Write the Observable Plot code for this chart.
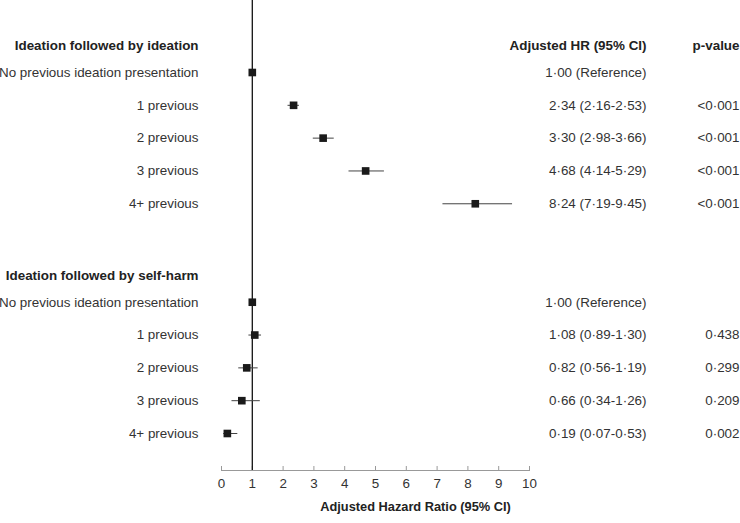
<!DOCTYPE html>
<html>
<head>
<meta charset="utf-8">
<script src="https://cdn.jsdelivr.net/npm/d3@7"></script>
<script src="https://cdn.jsdelivr.net/npm/@observablehq/plot@0.6"></script>
<style>
  html, body { margin: 0; padding: 0; background: #fff; }
  #chart { width: 740px; height: 523px; overflow: hidden; }
</style>
</head>
<body>
<div id="chart"></div>
<script>
// ---- data ----
const groupTitles = ["Ideation followed by ideation", "Ideation followed by self-harm"];
const groupRows = [0, 7];
const rowLabels = ["No previous ideation presentation", "1 previous", "2 previous", "3 previous", "4+ previous"];
const rows1 = [1, 2, 3, 4, 5];
const rows2 = [8, 9, 10, 11, 12];

const hr1 = [1.00, 2.34, 3.30, 4.68, 8.24];
const lo1 = [null, 2.16, 2.98, 4.14, 7.19];
const hi1 = [null, 2.53, 3.66, 5.29, 9.45];
const p1 = ["", "<0·001", "<0·001", "<0·001", "<0·001"];

const hr2 = [1.00, 1.08, 0.82, 0.66, 0.19];
const lo2 = [null, 0.89, 0.56, 0.34, 0.07];
const hi2 = [null, 1.30, 1.19, 1.26, 0.53];
const p2 = ["", "0·438", "0·299", "0·209", "0·002"];

const xTicks = [0, 1, 2, 3, 4, 5, 6, 7, 8, 9, 10];
const colHeaders = ["Adjusted HR (95% CI)", "p-value"];
const xTitle = "Adjusted Hazard Ratio (95% CI)";

// ---- build table ----
const fmt = v => d3.format(".2f")(v).replace(".", "·");
function build(rows, hr, lo, hi, p) {
  return rows.map((r, i) => ({
    row: r,
    label: rowLabels[i],
    hr: hr[i], lo: lo[i], hi: hi[i], p: p[i],
    hrText: lo[i] == null ? `${fmt(hr[i])} (Reference)` : `${fmt(hr[i])} (${fmt(lo[i])}-${fmt(hi[i])})`
  }));
}
const data = [...build(rows1, hr1, lo1, hi1, p1), ...build(rows2, hr2, lo2, hi2, p2)];
const headers = groupTitles.map((t, i) => ({title: t, row: groupRows[i]}));

const chart = Plot.plot({
  width: 740,
  height: 523,
  marginLeft: 221,
  marginRight: 211,
  marginTop: 0,
  marginBottom: 53,
  x: {domain: [0, 10]},
  y: {domain: [1, 12], range: [72, 433], axis: null},
  style: {fontFamily: "'Liberation Sans', Arial, sans-serif", fontSize: "13.4px", color: "#333", background: "#fff"},
  marks: [
    Plot.frame({anchor: "bottom", stroke: "#999"}),
    Plot.axisX({ticks: xTicks, tickSize: -4, tickPadding: 12, label: null, stroke: "#999", fill: "#333", fontSize: "13.4px", tickFormat: d3.format("d")}),
    Plot.ruleX([1], {stroke: "#111", strokeWidth: 1.3}),
    Plot.ruleY(data.filter(d => d.lo != null), {y: "row", x1: "lo", x2: "hi", stroke: "#444", strokeWidth: 1}),
    Plot.dot(data, {x: "hr", y: "row", symbol: "square", r: 4.3, fill: "#1a1a1a", stroke: "none"}),
    // row labels
    Plot.text(data, {y: "row", text: "label", frameAnchor: "left", dx: -23, textAnchor: "end", fill: "#333"}),
    Plot.text(headers, {y: "row", text: "title", frameAnchor: "left", dx: -23, dy: 6, textAnchor: "end", fontWeight: "bold", fill: "#222"}),
    // right columns
    Plot.text(data, {y: "row", text: "hrText", frameAnchor: "right", dx: 117, textAnchor: "end", fill: "#333"}),
    Plot.text(data, {y: "row", text: "p", frameAnchor: "right", dx: 210, textAnchor: "end", fill: "#333"}),
    Plot.text([{t: colHeaders[0], row: 0}], {y: "row", text: "t", frameAnchor: "right", dx: 117, dy: 6, textAnchor: "end", fontWeight: "bold", fill: "#222"}),
    Plot.text([{t: colHeaders[1], row: 0}], {y: "row", text: "t", frameAnchor: "right", dx: 210, dy: 6, textAnchor: "end", fontWeight: "bold", fill: "#222"}),
    // x title
    Plot.text([xTitle], {text: d => d, frameAnchor: "bottom", dx: 40, dy: 40, fontWeight: "bold", fontSize: 12.8, fill: "#222"})
  ]
});
document.getElementById("chart").appendChild(chart);
</script>
</body>
</html>
